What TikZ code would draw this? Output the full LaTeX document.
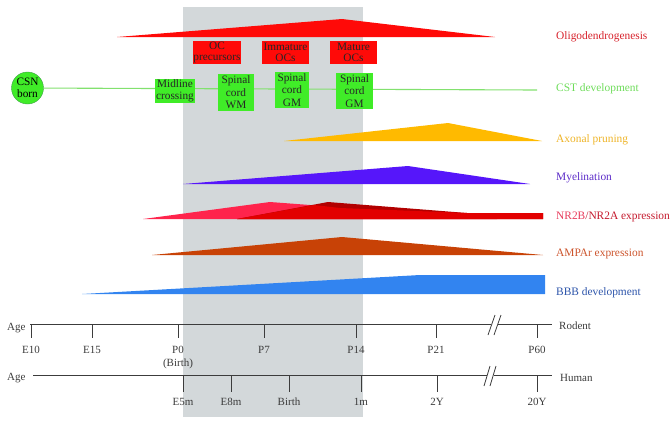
\documentclass[tikz,border=0pt]{standalone}
\usepackage{fontspec}
\setmainfont{Liberation Serif}
\usepackage{tikz}
\usetikzlibrary{positioning}
\definecolor{bggray}{RGB}{211, 216, 218}
\definecolor{olred}{RGB}{255, 10, 8}
\definecolor{oltext}{RGB}{214, 32, 42}
\definecolor{cstgreen}{RGB}{64, 236, 40}
\definecolor{cstline}{RGB}{130, 225, 110}
\definecolor{csttext}{RGB}{110, 220, 90}
\definecolor{cstedge}{RGB}{60, 160, 70}
\definecolor{prgold}{RGB}{255, 186, 0}
\definecolor{prtext}{RGB}{238, 180, 40}
\definecolor{myviolet}{RGB}{86, 22, 250}
\definecolor{mytext}{RGB}{92, 44, 200}
\definecolor{nrpink}{RGB}{255, 36, 76}
\definecolor{nrred}{RGB}{226, 0, 0}
\definecolor{nrdark}{RGB}{178, 0, 0}
\definecolor{nrbtext}{RGB}{232, 60, 92}
\definecolor{nratext}{RGB}{196, 24, 44}
\definecolor{ampbrown}{RGB}{200, 66, 6}
\definecolor{amptext}{RGB}{204, 84, 44}
\definecolor{bbbblue}{RGB}{50, 132, 240}
\definecolor{bbbtext}{RGB}{44, 84, 170}
\definecolor{axgray}{RGB}{60, 60, 60}

\begin{document}
\begin{tikzpicture}[x=1pt, y=-1pt,
    font=\fontsize{11}{12}\selectfont,
    stagebox/.style={fill=olred, text=black!85, inner sep=0pt, align=center,
      minimum height=23pt, font=\fontsize{11.3}{11}\selectfont},
    tractbox/.style={fill=cstgreen, text=black!85, inner sep=0pt, align=center,
      font=\fontsize{11.3}{12.5}\selectfont},
    rowlabel/.style={anchor=base west, inner sep=0pt, font=\fontsize{11.4}{13}\selectfont},
    agelabel/.style={anchor=base, inner sep=0pt, text=axgray},
    axisline/.style={axgray, line width=0.8pt}]

  \useasboundingbox (0,0) rectangle (671,424);

  % --- shaded perinatal window ---
  \fill[bggray] (183,7) rectangle (363,417);

  % --- oligodendrogenesis ---
  \fill[olred] (117,37) -- (342,19) -- (495,37) -- cycle;
  \node[stagebox, minimum width=48pt] (ocpre) at (217,52.5) {OC\\precursors};
  \node[stagebox, minimum width=47pt] (ocimm) at (285.5,52.5) {Immature\\OCs};
  \node[stagebox, minimum width=47pt] (ocmat) at (353.5,52.5) {Mature\\OCs};
  \node[rowlabel, text=oltext] (oligo) at (556,39.5) {Oligodendrogenesis};

  % --- CST development ---
  \node[circle, fill=cstgreen, draw=cstedge, thin, minimum size=32pt, inner sep=0pt,
    align=center, font=\fontsize{11.3}{12}\selectfont] (csn) at (27.5,88) {CSN\\born};
  \coordinate (cstend) at (537,90);
  \draw[cstline, line width=1.1pt] (csn) -- (cstend);
  \node[tractbox, minimum width=40pt, minimum height=24pt] (midline) at (175,91)
    {Midline\\crossing};
  \node[tractbox, minimum width=36pt, minimum height=37pt] (cordwm) at (236,92.5)
    {Spinal\\cord\\WM};
  \node[tractbox, minimum width=34pt, minimum height=36pt] (cordgm) at (292,90)
    {Spinal\\cord\\GM};
  \node[tractbox, minimum width=37pt, minimum height=36pt] (cordgmb) at (354.5,91)
    {Spinal\\cord\\GM};
  \node[rowlabel, text=csttext] (cst) at (556,91.5) {CST development};

  % --- axonal pruning ---
  \fill[prgold] (284,141) -- (448,123) -- (542,141) -- cycle;
  \node[rowlabel, text=prtext] (prune) at (556,142.5) {Axonal pruning};

  % --- myelination ---
  \fill[myviolet] (183,184) -- (408,166) -- (530,184) -- cycle;
  \node[rowlabel, text=mytext] (myelin) at (556,180) {Myelination};

  % --- NR2B / NR2A ---
  \fill[nrpink] (143,219) -- (270,202) -- (497,219) -- cycle;
  \fill[nrdark] (237,219) -- (328,202) -- (467,213) -- (543,213) -- (543,219) -- cycle;
  \fill[nrred] (237,219) -- (314,205) -- (340,208) -- (467,213) -- (543,213)
    -- (543,219) -- cycle;
  \node[rowlabel] (nmda) at (556,219)
    {\textcolor{nrbtext}{NR2B}\textcolor{nratext}{/NR2A expression}};

  % --- AMPAr ---
  \fill[ampbrown] (152,255) -- (342,237) -- (543,255) -- cycle;
  \node[rowlabel, text=amptext] (ampa) at (556,256.5) {AMPAr expression};

  % --- BBB ---
  \fill[bbbblue] (82,294) -- (420,275) -- (545,275) -- (545,294) -- cycle;
  \node[rowlabel, text=bbbtext] (bbb) at (556,295) {BBB development};

  % --- rodent age axis ---
  \node[agelabel, anchor=base west] (agerod) at (7,330) {Age};
  \draw[axisline] (30,324) -- (491,324);
  \draw[axisline] (498,324) -- (552,324);
  \draw[axisline] (488,335) -- (495,315);
  \draw[axisline] (494,335) -- (501,315);
  \foreach \x/\lab [count=\i] in {31/E10, 92/E15, 178/P0, 264/P7, 356/P14, 436/P21, 537/P60} {
    \draw[axisline] (\x,324) -- (\x,338);
    \node[agelabel] (rod\i) at (\x,353.5) {\lab};
  }
  \node[agelabel] (rodbirth) at (178,366) {(Birth)};
  \node[agelabel, anchor=base west] (rodent) at (559,329.5) {Rodent};

  % --- human age axis ---
  \node[agelabel, anchor=base west] (agehum) at (7,380) {Age};
  \draw[axisline] (33,375) -- (487,375);
  \draw[axisline] (494,375) -- (552,375);
  \draw[axisline] (484,386) -- (490,366);
  \draw[axisline] (490,386) -- (496,366);
  \foreach \x/\lab [count=\i] in {183/E5m, 231/E8m, 289/Birth, 361/1m, 437/2Y, 537/20Y} {
    \draw[axisline] (\x,375) -- (\x,392);
    \node[agelabel] (hum\i) at (\x,405) {\lab};
  }
  \node[agelabel, anchor=base west] (human) at (560,381) {Human};

\end{tikzpicture}
\end{document}
